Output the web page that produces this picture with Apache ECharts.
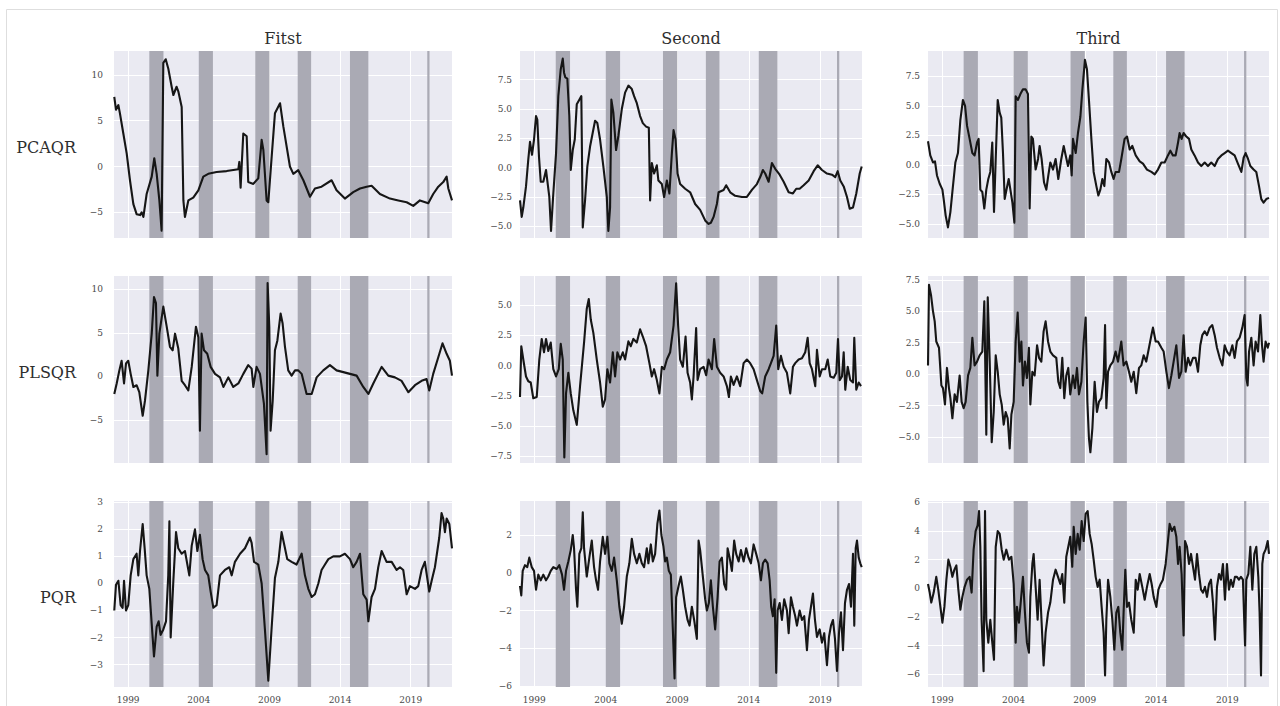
<!DOCTYPE html>
<html>
<head>
<meta charset="utf-8">
<title>Quantile regression factors</title>
<script src="https://cdn.jsdelivr.net/npm/echarts@6/dist/echarts.min.js"></script>
<style>
  html, body { margin: 0; padding: 0; background: #ffffff; }
  #chart { width: 1280px; height: 706px; }
</style>
</head>
<body>
<div id="chart"></div>
<script>
// Column and row headings
const columnTitles = ['Fitst', 'Second', 'Third'];
const rowTitles = ['PCAQR', 'PLSQR', 'PQR'];

// Year ticks along the time axis
const yearTicks = [1999, 2004, 2009, 2014, 2019];
const timeRange = [1998.0, 2021.92];

// Shaded periods [start, end] in decimal years
const shadedPeriods = [
  [2000.5, 2001.5], [2004.0, 2005.0], [2008.0, 2009.0],
  [2011.0, 2011.95], [2014.7, 2016.0], [2020.17, 2020.33]
];

// ---- Series: [decimal year, value] ----
const pcaqrFitst = [[1998.02,7.6],[1998.14,6.2],[1998.31,6.7],[1998.42,5.8],[1998.66,3.6],[1998.90,1.4],[1999.13,-1.5],[1999.37,-4.1],[1999.60,-5.2],[1999.84,-5.3],[1999.96,-5.0],[2000.08,-5.5],[2000.31,-3.0],[2000.67,-1.1],[2000.85,0.9],[2001.02,-0.8],[2001.21,-3.7],[2001.37,-7.0],[2001.49,11.3],[2001.66,11.7],[2001.84,10.7],[2002.08,8.7],[2002.20,7.8],[2002.43,8.7],[2002.55,8.2],[2002.79,6.5],[2002.91,-3.7],[2003.02,-5.5],[2003.26,-3.7],[2003.61,-3.4],[2003.97,-2.6],[2004.32,-1.1],[2004.67,-0.8],[2005.26,-0.6],[2005.97,-0.5],[2006.80,-0.3],[2006.87,0.5],[2006.96,-2.3],[2007.15,3.6],[2007.39,3.3],[2007.50,-1.7],[2007.86,-1.9],[2008.21,-1.3],[2008.45,2.9],[2008.57,1.8],[2008.80,-3.7],[2008.92,-3.9],[2009.16,1.1],[2009.39,5.8],[2009.75,6.9],[2009.98,4.4],[2010.45,0.0],[2010.69,-0.8],[2011.04,-0.4],[2011.40,-1.5],[2011.87,-3.3],[2012.22,-2.4],[2012.69,-2.2],[2013.40,-1.5],[2013.75,-2.6],[2014.34,-3.5],[2014.93,-2.8],[2015.41,-2.4],[2015.88,-2.2],[2016.23,-2.1],[2016.82,-3.0],[2017.53,-3.5],[2018.12,-3.7],[2018.71,-3.9],[2019.18,-4.3],[2019.65,-3.7],[2020.24,-4.0],[2020.59,-3.0],[2020.95,-2.2],[2021.30,-1.7],[2021.54,-1.1],[2021.66,-2.4],[2021.92,-3.7]];

const plsqrFitst = [[1998.02,-2.0],[1998.19,-0.8],[1998.38,0.7],[1998.54,1.8],[1998.71,-0.8],[1998.85,1.5],[1999.01,1.8],[1999.18,0.3],[1999.37,-1.2],[1999.60,-1.0],[1999.79,-1.8],[2000.03,-4.5],[2000.19,-2.8],[2000.43,0.7],[2000.67,4.9],[2000.83,9.1],[2000.97,8.4],[2001.07,0.1],[2001.21,4.9],[2001.49,8.0],[2001.73,5.7],[2001.96,3.4],[2002.15,3.0],[2002.32,4.9],[2002.55,3.2],[2002.79,-0.5],[2003.02,-1.0],[2003.26,-1.6],[2003.50,1.1],[2003.80,5.7],[2003.97,4.5],[2004.08,-6.2],[2004.20,4.9],[2004.37,3.0],[2004.60,2.6],[2004.84,1.1],[2005.15,0.3],[2005.50,-0.1],[2005.74,-1.2],[2006.09,-0.1],[2006.44,-1.2],[2006.80,-0.8],[2007.15,0.3],[2007.50,1.3],[2007.74,0.9],[2007.86,-1.2],[2008.09,1.1],[2008.33,0.3],[2008.61,-3.1],[2008.80,-8.9],[2008.87,10.7],[2008.99,5.7],[2009.08,-6.2],[2009.23,-2.8],[2009.39,3.0],[2009.56,4.1],[2009.79,7.2],[2009.93,6.1],[2010.10,3.4],[2010.33,0.7],[2010.57,0.1],[2010.81,0.7],[2011.04,0.7],[2011.28,0.3],[2011.63,-2.0],[2011.99,-2.0],[2012.34,-0.1],[2012.81,0.7],[2013.28,1.3],[2013.75,0.7],[2014.23,0.5],[2014.70,0.3],[2015.17,0.1],[2015.64,-1.2],[2016.00,-2.0],[2016.35,-0.8],[2016.94,1.1],[2017.41,0.1],[2017.88,-0.1],[2018.35,-0.5],[2018.83,-1.8],[2019.30,-1.0],[2019.77,-0.5],[2020.12,-0.3],[2020.31,-1.6],[2020.59,0.3],[2020.95,2.2],[2021.25,3.8],[2021.54,2.6],[2021.77,1.8],[2021.92,0.1]];

const pqrFitst = [[1998.02,-1.0],[1998.14,-0.05],[1998.31,0.1],[1998.47,-0.8],[1998.61,-0.9],[1998.71,0.1],[1998.85,-1.0],[1999.01,-0.8],[1999.18,0.3],[1999.37,0.9],[1999.60,1.1],[1999.72,0.3],[1999.84,1.2],[2000.03,2.2],[2000.17,1.3],[2000.31,0.3],[2000.50,-0.2],[2000.67,-1.5],[2000.83,-2.7],[2001.02,-1.6],[2001.16,-1.4],[2001.30,-1.9],[2001.49,-1.7],[2001.68,-1.4],[2001.84,0.3],[2001.92,2.3],[2002.01,-2.0],[2002.20,0.1],[2002.39,1.9],[2002.55,1.3],[2002.79,1.1],[2003.02,1.2],[2003.33,0.3],[2003.50,1.4],[2003.73,2.0],[2003.90,1.2],[2004.08,1.8],[2004.27,0.9],[2004.44,0.5],[2004.67,0.3],[2004.84,-0.3],[2005.03,-0.9],[2005.26,-0.8],[2005.50,0.3],[2005.85,0.5],[2006.16,0.6],[2006.33,0.3],[2006.56,0.8],[2006.92,1.1],[2007.27,1.3],[2007.62,1.7],[2007.74,1.5],[2007.91,0.8],[2008.21,0.7],[2008.45,0.0],[2008.68,-1.7],[2008.92,-3.6],[2009.16,-1.6],[2009.39,0.2],[2009.63,0.8],[2009.86,1.9],[2010.10,1.3],[2010.26,0.9],[2010.57,0.8],[2010.92,0.7],[2011.28,1.1],[2011.51,0.3],[2011.75,-0.2],[2011.99,-0.5],[2012.22,-0.4],[2012.46,0.0],[2012.69,0.5],[2012.93,0.7],[2013.17,0.9],[2013.52,1.0],[2013.99,1.0],[2014.34,1.1],[2014.70,0.9],[2014.93,0.6],[2015.17,0.8],[2015.41,1.1],[2015.64,-0.4],[2015.88,-0.6],[2016.00,-1.4],[2016.23,-0.5],[2016.47,-0.2],[2016.70,0.6],[2016.94,1.2],[2017.29,0.8],[2017.65,0.8],[2018.00,0.5],[2018.24,0.6],[2018.47,0.5],[2018.71,-0.4],[2018.94,-0.1],[2019.30,-0.2],[2019.53,-0.1],[2019.77,0.5],[2020.00,0.8],[2020.17,0.2],[2020.31,-0.3],[2020.48,0.1],[2020.71,0.6],[2020.88,1.2],[2021.02,1.7],[2021.18,2.6],[2021.30,2.4],[2021.42,1.9],[2021.54,2.4],[2021.73,2.2],[2021.92,1.3]];

const pcaqrSecond = [[1998.00,-2.8],[1998.12,-4.2],[1998.23,-3.4],[1998.42,-1.6],[1998.58,0.7],[1998.70,2.2],[1998.84,1.1],[1998.98,2.4],[1999.12,4.4],[1999.21,4.1],[1999.33,0.9],[1999.45,-1.2],[1999.63,-1.2],[1999.82,-0.2],[1999.91,-1.1],[2000.05,-2.5],[2000.17,-5.4],[2000.33,-2.2],[2000.52,1.2],[2000.68,6.1],[2000.85,8.4],[2000.99,9.3],[2001.08,8.1],[2001.17,7.7],[2001.31,7.6],[2001.45,4.4],[2001.55,-0.2],[2001.69,1.5],[2001.83,2.4],[2001.97,5.4],[2002.15,5.8],[2002.29,6.1],[2002.39,-5.1],[2002.55,-2.8],[2002.71,0.1],[2002.90,1.8],[2003.09,3.0],[2003.25,4.0],[2003.41,3.8],[2003.60,2.4],[2003.83,0.1],[2004.07,-2.5],[2004.18,-5.4],[2004.30,-3.4],[2004.39,5.8],[2004.53,4.7],[2004.72,1.5],[2004.88,2.7],[2005.12,5.0],[2005.35,6.4],[2005.58,7.0],[2005.82,6.7],[2005.98,6.1],[2006.17,5.5],[2006.40,4.4],[2006.59,3.8],[2006.82,3.5],[2007.01,3.4],[2007.10,-2.8],[2007.22,0.4],[2007.38,-0.5],[2007.57,0.2],[2007.68,-1.1],[2007.92,-1.4],[2008.08,-2.5],[2008.27,-1.1],[2008.45,-2.2],[2008.62,1.2],[2008.74,3.2],[2008.88,2.4],[2009.02,-0.5],[2009.20,-1.4],[2009.55,-1.8],[2009.90,-2.1],[2010.25,-3.1],[2010.60,-3.6],[2010.95,-4.5],[2011.19,-4.8],[2011.35,-4.7],[2011.54,-4.2],[2011.77,-3.1],[2011.89,-2.1],[2012.24,-1.9],[2012.42,-1.5],[2012.70,-2.1],[2013.05,-2.4],[2013.52,-2.5],[2013.87,-2.5],[2014.22,-1.9],[2014.57,-1.4],[2014.80,-0.8],[2014.99,-0.2],[2015.15,-0.5],[2015.39,-1.2],[2015.62,0.4],[2015.85,-0.1],[2016.16,-0.6],[2016.44,-1.2],[2016.79,-2.1],[2017.09,-2.2],[2017.32,-1.8],[2017.56,-1.8],[2017.84,-1.5],[2018.19,-1.1],[2018.54,-0.3],[2018.82,0.2],[2019.12,-0.2],[2019.47,-0.5],[2019.82,-0.6],[2020.05,-0.8],[2020.22,-0.3],[2020.40,-1.1],[2020.64,-1.6],[2020.87,-2.5],[2021.06,-3.5],[2021.29,-3.4],[2021.52,-2.2],[2021.76,-0.5],[2021.90,0.1]];

const plsqrSecond = [[1998.00,-2.6],[1998.09,1.6],[1998.23,0.5],[1998.42,-0.9],[1998.58,-1.3],[1998.75,-1.4],[1998.93,-2.7],[1999.17,-2.6],[1999.35,0.5],[1999.52,2.2],[1999.68,1.1],[1999.82,2.2],[1999.98,1.2],[2000.15,1.9],[2000.33,-0.3],[2000.52,-0.9],[2000.71,-0.3],[2000.85,1.8],[2000.99,0.5],[2001.10,-7.6],[2001.22,-2.3],[2001.38,-0.6],[2001.55,-2.3],[2001.73,-3.7],[2001.97,-4.9],[2002.20,-1.7],[2002.48,1.9],[2002.67,4.7],[2002.81,5.5],[2002.95,3.8],[2003.13,2.7],[2003.37,0.5],[2003.60,-1.4],[2003.79,-3.4],[2003.95,-2.8],[2004.11,-0.3],[2004.30,-1.4],[2004.49,1.1],[2004.65,-0.9],[2004.81,1.1],[2005.00,0.5],[2005.19,1.1],[2005.35,0.5],[2005.58,2.0],[2005.75,1.6],[2005.93,2.2],[2006.17,1.9],[2006.40,3.0],[2006.59,2.4],[2006.82,1.6],[2007.05,0.2],[2007.22,-0.9],[2007.38,-0.3],[2007.57,-1.2],[2007.75,-2.3],[2007.92,-0.1],[2008.08,-0.3],[2008.27,0.5],[2008.50,1.1],[2008.74,3.3],[2008.92,6.8],[2009.06,3.3],[2009.20,0.5],[2009.39,-0.1],[2009.58,2.4],[2009.72,-0.6],[2009.90,-1.4],[2010.02,-2.8],[2010.14,-0.9],[2010.32,3.1],[2010.42,-1.2],[2010.60,-0.3],[2010.84,-0.1],[2011.02,-0.8],[2011.19,0.5],[2011.42,-0.3],[2011.58,2.2],[2011.77,-0.1],[2012.00,-0.6],[2012.24,-0.9],[2012.47,-1.7],[2012.61,-2.6],[2012.75,-0.9],[2012.94,-1.6],[2013.17,-0.9],[2013.40,-1.7],[2013.64,0.2],[2013.87,0.5],[2014.10,0.2],[2014.34,-0.3],[2014.57,-1.2],[2014.80,-2.1],[2014.94,-2.3],[2015.15,-0.9],[2015.39,-0.3],[2015.55,0.2],[2015.74,0.8],[2015.92,3.3],[2016.06,-0.3],[2016.25,0.8],[2016.44,-0.1],[2016.67,-0.6],[2016.90,-2.3],[2017.09,-0.1],[2017.25,0.2],[2017.49,0.5],[2017.72,0.6],[2017.95,1.1],[2018.12,2.3],[2018.26,0.2],[2018.42,-0.3],[2018.65,-1.7],[2018.77,1.3],[2018.96,-0.9],[2019.12,-0.3],[2019.35,-0.3],[2019.52,0.5],[2019.70,-0.9],[2019.94,-1.0],[2020.12,-0.6],[2020.24,2.2],[2020.36,-1.2],[2020.52,-0.9],[2020.64,1.1],[2020.75,-2.0],[2020.92,-0.1],[2021.10,-1.2],[2021.29,-1.4],[2021.38,2.3],[2021.52,-2.0],[2021.69,-1.4],[2021.85,-1.7]];

const pqrSecond = [[1998.00,-0.7],[1998.09,-1.2],[1998.19,0.1],[1998.35,0.4],[1998.51,0.3],[1998.65,0.8],[1998.82,0.3],[1998.98,0.1],[1999.12,-0.9],[1999.28,-0.1],[1999.45,-0.4],[1999.63,-0.1],[1999.82,-0.4],[1999.98,-0.2],[2000.15,0.1],[2000.33,0.3],[2000.57,0.2],[2000.75,0.4],[2000.94,-0.1],[2001.08,-0.9],[2001.22,0.1],[2001.38,0.6],[2001.55,1.2],[2001.69,2.0],[2001.78,1.3],[2001.92,-0.9],[2002.01,-1.8],[2002.15,1.0],[2002.29,1.3],[2002.39,3.2],[2002.48,1.3],[2002.67,-0.2],[2002.85,0.8],[2003.02,1.7],[2003.18,0.3],[2003.32,-0.4],[2003.46,-0.9],[2003.60,0.6],[2003.79,1.9],[2003.95,1.0],[2004.11,1.9],[2004.25,0.5],[2004.42,0.1],[2004.58,0.8],[2004.77,-0.4],[2004.95,-1.8],[2005.12,-2.7],[2005.28,-1.8],[2005.47,-0.2],[2005.65,0.5],[2005.82,1.8],[2005.98,1.0],[2006.17,0.5],[2006.35,1.0],[2006.52,0.5],[2006.68,0.3],[2006.87,1.3],[2006.98,0.5],[2007.15,1.5],[2007.29,0.6],[2007.45,1.0],[2007.61,2.6],[2007.75,3.3],[2007.89,2.0],[2008.03,1.4],[2008.15,0.6],[2008.27,0.8],[2008.41,0.1],[2008.55,-0.1],[2008.69,-3.0],[2008.81,-5.6],[2008.92,-1.3],[2009.09,-0.7],[2009.25,-0.2],[2009.39,-0.9],[2009.55,-1.8],[2009.72,-2.5],[2009.86,-2.8],[2010.02,-1.8],[2010.18,-2.5],[2010.37,-3.5],[2010.49,1.7],[2010.60,1.2],[2010.79,-0.2],[2010.95,-1.4],[2011.07,-2.0],[2011.21,-1.6],[2011.35,-0.4],[2011.49,-1.8],[2011.65,-3.0],[2011.82,-1.3],[2011.96,0.6],[2012.12,0.8],[2012.28,-0.6],[2012.42,-0.9],[2012.52,1.3],[2012.66,0.8],[2012.82,0.1],[2012.98,1.7],[2013.12,1.0],[2013.29,0.6],[2013.45,1.2],[2013.64,0.6],[2013.82,1.3],[2013.99,0.8],[2014.15,0.5],[2014.34,1.5],[2014.52,1.0],[2014.69,0.5],[2014.85,-0.4],[2014.99,0.5],[2015.15,0.7],[2015.32,0.5],[2015.46,-0.4],[2015.57,-1.8],[2015.69,-2.3],[2015.81,-1.4],[2015.92,-5.3],[2016.02,-2.0],[2016.16,-1.6],[2016.32,-2.5],[2016.48,-1.4],[2016.67,-2.0],[2016.79,-3.2],[2016.95,-1.3],[2017.09,-1.8],[2017.25,-2.3],[2017.37,-2.8],[2017.56,-2.0],[2017.72,-2.5],[2017.88,-2.3],[2018.07,-4.1],[2018.21,-2.5],[2018.35,-1.8],[2018.49,-1.1],[2018.63,-2.5],[2018.77,-3.4],[2018.96,-3.0],[2019.12,-3.7],[2019.28,-3.2],[2019.47,-4.9],[2019.61,-3.4],[2019.75,-2.8],[2019.89,-2.5],[2020.03,-3.5],[2020.17,-5.2],[2020.31,-3.2],[2020.45,-2.1],[2020.59,-4.1],[2020.73,-1.6],[2020.87,-0.9],[2021.01,-0.6],[2021.15,-1.8],[2021.29,1.0],[2021.38,-2.8],[2021.48,1.3],[2021.57,1.7],[2021.69,0.8],[2021.80,0.5],[2021.90,0.3]];

const pcaqrThird = [[1998.00,2.0],[1998.16,0.8],[1998.35,0.2],[1998.49,0.3],[1998.63,-0.9],[1998.82,-1.6],[1999.01,-2.1],[1999.10,-2.9],[1999.24,-4.3],[1999.40,-5.3],[1999.57,-4.0],[1999.75,-1.8],[1999.92,0.2],[2000.10,1.0],[2000.27,3.8],[2000.45,5.5],[2000.60,5.0],[2000.74,3.3],[2000.92,2.2],[2001.11,1.0],[2001.27,0.8],[2001.44,1.9],[2001.55,2.2],[2001.67,-2.1],[2001.81,-2.3],[2001.95,-3.7],[2002.09,-2.1],[2002.23,-1.2],[2002.37,-0.6],[2002.51,1.9],[2002.63,-4.0],[2002.75,0.5],[2002.89,5.5],[2003.03,4.4],[2003.14,4.0],[2003.26,1.0],[2003.38,-2.9],[2003.49,-2.2],[2003.66,-1.2],[2003.78,-2.1],[2003.92,-3.2],[2004.06,-4.9],[2004.15,5.8],[2004.31,5.5],[2004.48,6.0],[2004.66,6.4],[2004.85,6.4],[2005.01,6.0],[2005.13,-3.7],[2005.25,2.4],[2005.36,2.2],[2005.55,-0.4],[2005.72,0.5],[2005.83,1.6],[2005.97,0.5],[2006.14,-1.5],[2006.30,-2.1],[2006.44,-0.9],[2006.58,0.2],[2006.77,-0.4],[2006.95,0.5],[2007.14,-1.2],[2007.35,0.5],[2007.52,1.6],[2007.66,0.8],[2007.82,-0.1],[2007.98,0.8],[2008.08,-0.9],[2008.17,2.2],[2008.36,1.0],[2008.52,2.7],[2008.69,4.1],[2008.83,6.4],[2009.01,8.9],[2009.15,8.1],[2009.29,5.5],[2009.46,2.2],[2009.62,-0.6],[2009.81,-1.8],[2009.95,-2.6],[2010.09,-2.1],[2010.23,-1.2],[2010.37,-1.8],[2010.51,0.5],[2010.70,0.2],[2010.86,-0.6],[2011.02,-1.2],[2011.16,-0.6],[2011.40,-0.6],[2011.56,0.5],[2011.79,2.2],[2011.96,2.4],[2012.15,1.3],[2012.33,1.6],[2012.57,0.8],[2012.85,0.3],[2013.08,0.1],[2013.36,-0.4],[2013.67,-0.6],[2013.90,-0.8],[2014.13,-0.4],[2014.37,0.2],[2014.60,0.2],[2014.83,0.8],[2015.00,1.2],[2015.18,0.8],[2015.37,0.8],[2015.54,1.9],[2015.65,2.7],[2015.79,2.2],[2015.93,2.7],[2016.12,2.4],[2016.31,2.2],[2016.47,1.3],[2016.70,0.8],[2016.94,0.2],[2017.17,-0.1],[2017.41,0.2],[2017.64,-0.1],[2017.87,0.2],[2018.11,-0.1],[2018.34,0.5],[2018.58,0.8],[2018.81,1.0],[2019.04,1.2],[2019.28,1.0],[2019.51,0.8],[2019.74,0.1],[2019.98,-0.6],[2020.14,0.6],[2020.28,1.0],[2020.45,0.5],[2020.61,-0.1],[2020.84,-0.4],[2021.03,-0.6],[2021.22,-1.8],[2021.38,-2.9],[2021.54,-3.2],[2021.73,-2.9],[2021.92,-2.8]];

const plsqrThird = [[1998.00,0.7],[1998.07,7.1],[1998.21,6.3],[1998.35,5.0],[1998.47,4.2],[1998.58,2.6],[1998.77,2.1],[1998.94,-0.9],[1999.05,-1.1],[1999.19,-2.4],[1999.33,0.5],[1999.47,-1.1],[1999.57,-1.9],[1999.71,-3.5],[1999.87,-1.6],[2000.03,-2.2],[2000.22,-0.1],[2000.36,-2.2],[2000.50,-2.7],[2000.64,-2.2],[2000.81,-0.1],[2000.97,0.5],[2001.11,2.9],[2001.27,0.7],[2001.44,1.0],[2001.62,1.5],[2001.81,1.8],[2001.95,5.8],[2002.09,-4.8],[2002.19,6.1],[2002.33,1.0],[2002.47,-5.4],[2002.61,-3.0],[2002.75,1.5],[2002.89,0.2],[2003.03,-1.6],[2003.17,-2.4],[2003.31,-4.0],[2003.45,-3.0],[2003.59,-3.5],[2003.73,-5.9],[2003.85,-3.2],[2004.01,-2.2],[2004.15,2.6],[2004.29,4.9],[2004.43,1.0],[2004.55,2.6],[2004.66,-0.9],[2004.80,1.0],[2004.94,-0.3],[2005.08,2.1],[2005.18,-2.4],[2005.32,0.2],[2005.48,-0.1],[2005.65,2.3],[2005.79,1.3],[2005.95,1.0],[2006.11,3.4],[2006.25,4.2],[2006.42,2.6],[2006.58,1.8],[2006.77,1.5],[2007.00,1.3],[2007.14,-0.6],[2007.28,-1.1],[2007.42,1.3],[2007.56,-1.9],[2007.70,-0.1],[2007.84,0.5],[2007.98,-1.6],[2008.17,-0.1],[2008.31,-1.1],[2008.45,0.5],[2008.59,-1.6],[2008.76,-0.6],[2008.92,2.6],[2009.06,4.5],[2009.18,-2.2],[2009.29,-5.1],[2009.39,-6.2],[2009.53,-4.3],[2009.69,-0.6],[2009.85,-3.0],[2009.99,-2.2],[2010.16,-1.9],[2010.32,-0.3],[2010.42,3.9],[2010.51,-2.7],[2010.63,0.2],[2010.79,0.7],[2010.98,1.0],[2011.16,1.8],[2011.33,1.0],[2011.56,2.6],[2011.72,0.7],[2011.91,1.0],[2012.10,0.2],[2012.26,-0.6],[2012.43,0.2],[2012.61,-1.5],[2012.80,0.5],[2012.96,0.7],[2013.13,1.5],[2013.31,1.0],[2013.50,2.1],[2013.67,3.1],[2013.78,3.7],[2013.97,2.6],[2014.13,2.6],[2014.37,2.1],[2014.53,1.8],[2014.72,0.2],[2014.90,-1.1],[2015.07,-0.1],[2015.23,1.0],[2015.42,2.3],[2015.61,-0.3],[2015.77,0.2],[2015.93,3.1],[2016.07,0.2],[2016.24,1.3],[2016.40,0.7],[2016.59,1.3],[2016.77,1.3],[2016.94,0.2],[2017.10,2.3],[2017.24,3.1],[2017.41,3.4],[2017.57,3.1],[2017.76,3.7],[2017.94,3.9],[2018.11,3.1],[2018.27,2.1],[2018.46,1.3],[2018.65,0.7],[2018.81,2.3],[2018.97,1.8],[2019.16,1.5],[2019.35,2.3],[2019.51,1.3],[2019.67,2.6],[2019.86,2.9],[2020.05,3.7],[2020.21,4.7],[2020.33,-0.3],[2020.42,-0.9],[2020.52,1.8],[2020.68,2.9],[2020.84,0.7],[2020.98,2.6],[2021.15,1.8],[2021.31,4.7],[2021.43,2.3],[2021.54,1.0],[2021.68,2.6],[2021.83,2.1],[2021.92,2.5]];

const pqrThird = [[1998.00,0.3],[1998.12,-0.3],[1998.23,-1.0],[1998.40,-0.3],[1998.58,0.8],[1998.72,-0.1],[1998.87,-1.3],[1999.01,-2.4],[1999.15,-1.3],[1999.29,0.6],[1999.43,2.0],[1999.57,1.5],[1999.71,0.8],[1999.85,1.3],[1999.99,1.6],[2000.13,-0.1],[2000.27,-1.5],[2000.41,-0.6],[2000.57,0.1],[2000.74,0.6],[2000.92,0.8],[2001.06,-0.3],[2001.20,2.7],[2001.34,4.0],[2001.48,4.4],[2001.58,5.4],[2001.67,2.9],[2001.76,-2.2],[2001.90,-5.8],[2002.00,5.4],[2002.09,-2.2],[2002.23,-3.8],[2002.37,-2.2],[2002.51,-3.8],[2002.63,-5.0],[2002.75,2.9],[2002.89,4.0],[2003.03,3.8],[2003.17,2.7],[2003.31,2.0],[2003.49,2.7],[2003.68,2.0],[2003.85,2.2],[2004.01,0.3],[2004.15,-3.8],[2004.24,-1.3],[2004.38,-2.4],[2004.52,-0.8],[2004.66,0.8],[2004.80,-1.7],[2004.94,-3.8],[2005.08,-4.5],[2005.18,-0.6],[2005.32,1.7],[2005.41,2.4],[2005.55,0.1],[2005.69,-2.2],[2005.83,0.6],[2005.97,-2.4],[2006.11,-5.4],[2006.25,-3.1],[2006.42,-1.7],[2006.58,-1.0],[2006.77,0.6],[2006.95,1.3],[2007.12,0.8],[2007.28,0.3],[2007.42,1.0],[2007.56,-1.0],[2007.70,2.2],[2007.84,2.9],[2007.98,3.6],[2008.12,1.5],[2008.22,4.3],[2008.36,2.4],[2008.50,3.8],[2008.64,2.7],[2008.78,4.7],[2008.92,3.3],[2009.06,5.2],[2009.20,5.4],[2009.34,3.8],[2009.48,3.1],[2009.62,2.0],[2009.76,0.8],[2009.90,0.1],[2010.04,0.6],[2010.18,-1.3],[2010.32,-3.1],[2010.42,-6.1],[2010.51,-2.2],[2010.63,0.6],[2010.79,-0.6],[2010.93,-2.2],[2011.07,-4.3],[2011.21,-1.7],[2011.35,-1.3],[2011.49,-3.1],[2011.63,-4.3],[2011.72,-1.7],[2011.84,1.3],[2011.96,-1.3],[2012.10,-1.0],[2012.26,-2.2],[2012.43,-3.1],[2012.57,0.6],[2012.71,-0.1],[2012.85,1.0],[2013.03,0.1],[2013.20,-0.8],[2013.36,0.1],[2013.55,1.0],[2013.69,0.3],[2013.83,-0.6],[2014.02,-1.3],[2014.16,-0.1],[2014.32,0.3],[2014.48,0.6],[2014.67,1.7],[2014.83,3.3],[2014.95,4.5],[2015.11,4.0],[2015.28,4.3],[2015.42,3.6],[2015.54,1.7],[2015.65,2.9],[2015.79,1.0],[2015.93,-3.3],[2016.03,3.3],[2016.17,2.9],[2016.31,1.7],[2016.45,2.4],[2016.59,1.5],[2016.73,0.6],[2016.87,2.4],[2017.01,1.0],[2017.15,-0.1],[2017.29,-0.3],[2017.43,0.1],[2017.57,-0.6],[2017.71,0.3],[2017.85,0.6],[2017.99,-1.0],[2018.13,-3.6],[2018.27,0.1],[2018.41,1.0],[2018.55,0.6],[2018.69,1.7],[2018.83,-0.8],[2018.97,1.7],[2019.11,-0.1],[2019.25,0.6],[2019.39,0.1],[2019.53,0.8],[2019.67,0.8],[2019.81,0.6],[2019.95,0.8],[2020.09,0.6],[2020.24,-4.0],[2020.33,0.6],[2020.47,1.0],[2020.61,2.9],[2020.75,-0.1],[2020.89,2.4],[2021.03,2.9],[2021.17,0.8],[2021.26,-1.7],[2021.36,-6.1],[2021.45,1.7],[2021.54,2.4],[2021.68,2.7],[2021.83,3.3],[2021.92,2.4]];

// Value-axis ticks and limits, one entry per panel (row-major)
const yTicks = [
  [-5, 0, 5, 10], [-5, -2.5, 0, 2.5, 5, 7.5], [-5, -2.5, 0, 2.5, 5, 7.5],
  [-5, 0, 5, 10], [-7.5, -5, -2.5, 0, 2.5, 5], [-5, -2.5, 0, 2.5, 5, 7.5],
  [-3, -2, -1, 0, 1, 2, 3], [-6, -4, -2, 0, 2], [-6, -4, -2, 0, 2, 4, 6]
];
const yLimits = [
  [-7.8, 12.6], [-6.0, 9.95], [-6.2, 9.65],
  [-9.9, 11.5], [-8.05, 7.4], [-7.05, 7.8],
  [-3.83, 3.05], [-6.05, 3.8], [-6.9, 6.1]
];

const panelSeries = [
  pcaqrFitst, pcaqrSecond, pcaqrThird,
  plsqrFitst, plsqrSecond, plsqrThird,
  pqrFitst, pqrSecond, pqrThird
];

// ---- Layout ----
const colLeft = [114, 520, 928];
const colWidth = [338, 342, 341];
const rowTop = [51, 276, 501];
const rowHeight = [187, 187, 186];

const SERIF = '"DejaVu Serif", "Liberation Serif", serif';
const BAND_COLOR = '#aaaab4';

const grids = [], xAxes = [], yAxes = [], series = [];

panelSeries.forEach(function (data, i) {
  const r = Math.floor(i / 3), c = i % 3;
  const decimals = yTicks[i].some(function (v) { return v % 1 !== 0; }) ? 1 : 0;

  grids.push({
    left: colLeft[c], top: rowTop[r], width: colWidth[c], height: rowHeight[r],
    show: true, backgroundColor: '#eaeaf2', borderWidth: 0, containLabel: false
  });

  xAxes.push({
    type: 'value', gridIndex: i, min: timeRange[0], max: timeRange[1],
    axisLine: { show: false },
    axisTick: { show: false, customValues: yearTicks },
    axisLabel: {
      show: r === 2, customValues: yearTicks, margin: 8,
      fontFamily: SERIF, fontSize: 9, color: '#4a4a4a',
      formatter: function (v) { return String(Math.round(v)); }
    },
    splitLine: { show: true, lineStyle: { color: '#ffffff', width: 1 } }
  });

  yAxes.push({
    type: 'value', gridIndex: i, min: yLimits[i][0], max: yLimits[i][1],
    axisLine: { show: false },
    axisTick: { show: false, customValues: yTicks[i] },
    axisLabel: {
      customValues: yTicks[i], margin: c === 0 ? 11 : 8,
      fontFamily: SERIF, fontSize: 9, color: '#4a4a4a',
      formatter: function (v) {
        const s = Math.abs(v).toFixed(decimals);
        return v < 0 ? '\u2212' + s : s;
      }
    },
    splitLine: { show: true, lineStyle: { color: '#ffffff', width: 1 } }
  });

  // shaded periods underneath the line
  series.push({
    type: 'line', xAxisIndex: i, yAxisIndex: i, z: 1,
    data: [[timeRange[0], yLimits[i][0]]],
    symbol: 'none', lineStyle: { width: 0, opacity: 0 },
    silent: true, animation: false,
    markArea: {
      silent: true,
      itemStyle: { color: BAND_COLOR, opacity: 1 },
      data: shadedPeriods.map(function (p) { return [{ xAxis: p[0] }, { xAxis: p[1] }]; })
    }
  });

  series.push({
    type: 'line', xAxisIndex: i, yAxisIndex: i, z: 3,
    data: data, symbol: 'none', showSymbol: false,
    lineStyle: { color: '#161616', width: 2.1, join: 'round' },
    animation: false, silent: true
  });
});

const titleCenters = colLeft.map(function (l, c) { return l + colWidth[c] / 2; });
const rowCenters = rowTop.map(function (t, r) { return t + rowHeight[r] / 2 + 3; });

const graphics = [{
  type: 'rect', silent: true, z: -10,
  shape: { x: 6.5, y: 9.5, width: 1271, height: 720 },
  style: { fill: 'none', stroke: '#dedede', lineWidth: 1 }
}];
columnTitles.forEach(function (t, c) {
  graphics.push({
    type: 'text', x: titleCenters[c], y: 38, silent: true,
    style: { text: t, font: '16px ' + SERIF, fill: '#2e2e2e', align: 'center', verticalAlign: 'middle' }
  });
});
rowTitles.forEach(function (t, r) {
  graphics.push({
    type: 'text', x: 76, y: rowCenters[r], silent: true,
    style: { text: t, font: '16px ' + SERIF, fill: '#2e2e2e', align: 'right', verticalAlign: 'middle' }
  });
});

const chart = echarts.init(document.getElementById('chart'), null, { renderer: 'svg', width: 1280, height: 706 });
chart.setOption({
  backgroundColor: '#ffffff',
  animation: false,
  grid: grids,
  xAxis: xAxes,
  yAxis: yAxes,
  series: series,
  graphic: graphics
});
</script>
</body>
</html>
